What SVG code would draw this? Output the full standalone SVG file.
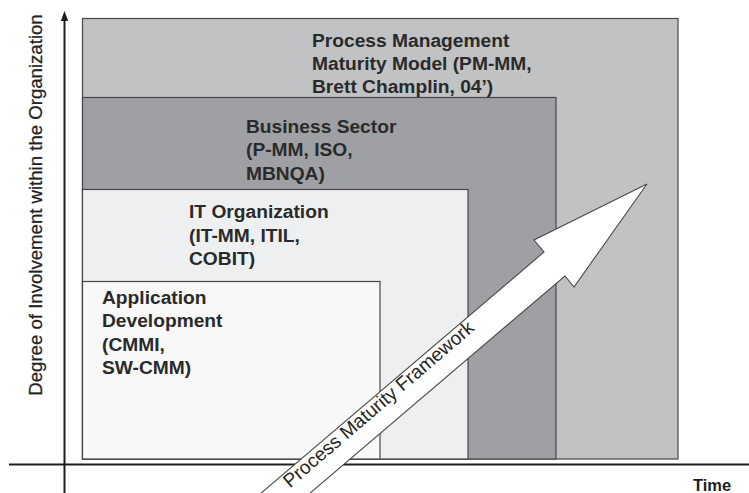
<svg xmlns="http://www.w3.org/2000/svg" width="749" height="493" viewBox="0 0 749 493">
<style>
.box{stroke:#474747;stroke-width:1.2}
.lbl{font-family:"Liberation Sans",Arial,sans-serif;font-weight:bold;font-size:19.2px;fill:#2a2a2a}
.ax{stroke:#1e1e1e;stroke-width:2;fill:none}
</style>
<rect width="749" height="493" fill="#ffffff"/>
<g id="pmmm">
<rect class="box" x="82.5" y="18.5" width="595.5" height="440.5" fill="#c1c2c4"/>
<text class="lbl"><tspan x="312" y="46.5">Process Management</tspan><tspan x="312" y="69.5">Maturity Model (PM-MM,</tspan><tspan x="312" y="92.5">Brett Champlin, 04’)</tspan></text>
</g>
<g id="business">
<rect class="box" x="82.5" y="97.5" width="473.5" height="361.5" fill="#9fa0a3"/>
<text class="lbl"><tspan x="246" y="132.5">Business Sector</tspan><tspan x="246" y="156">(P-MM, ISO,</tspan><tspan x="246" y="179.5">MBNQA)</tspan></text>
</g>
<g id="itorg">
<rect class="box" x="82.5" y="189.5" width="385.5" height="269.5" fill="#eeeff0"/>
<text class="lbl"><tspan x="189" y="218">IT Organization</tspan><tspan x="189" y="241.5">(IT-MM, ITIL,</tspan><tspan x="189" y="265">COBIT)</tspan></text>
</g>
<g id="appdev">
<rect class="box" x="82.5" y="281.5" width="297.5" height="177.5" fill="#f8f8f8"/>
<text class="lbl"><tspan x="102" y="304">Application</tspan><tspan x="102" y="327.3">Development</tspan><tspan x="102" y="350.6">(CMMI,</tspan><tspan x="102" y="374">SW-CMM)</tspan></text>
</g>
<g id="axes">
<line class="ax" x1="64.5" y1="19" x2="64.5" y2="493"/>
<polygon points="64.5,11 60.8,21 68.2,21" fill="#1e1e1e"/>
<line class="ax" x1="9" y1="464.5" x2="749" y2="464.5"/>
<text x="42" y="205" transform="rotate(-90 42 205)" text-anchor="middle" font-family="Liberation Sans, Arial, sans-serif" font-size="18.6" fill="#222222" stroke="#222222" stroke-width="0.25">Degree of Involvement within the Organization</text>
<text x="693" y="491" font-family="Liberation Sans, Arial, sans-serif" font-weight="bold" font-size="16.5" fill="#1e1e1e">Time</text>
</g>
<g id="framework-arrow">
<polygon points="647,184 574,287 565,276 302,500 253,500 544,252 534,240" fill="#ffffff" stroke="#4a4a4a" stroke-width="1.1" stroke-linejoin="miter"/>
<text transform="translate(290 488.5) rotate(-40.6)" font-family="Liberation Sans, Arial, sans-serif" font-size="19.2" fill="#262626">Process Maturity Framework</text>
</g>
</svg>
